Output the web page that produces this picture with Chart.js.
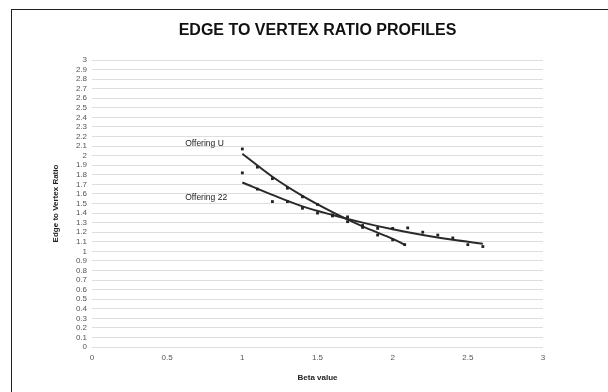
<!DOCTYPE html>
<html>
<head>
<meta charset="utf-8">
<script src="https://cdn.jsdelivr.net/npm/chart.js@4/dist/chart.umd.min.js"></script>
<style>
  html, body { margin: 0; padding: 0; background: #fff; }
  #wrap { position: relative; width: 608px; height: 392px; overflow: hidden; }
  #frame { position: absolute; left: 11px; top: 9px; width: 620px; height: 400px; border: 1px solid #222; }
  #chart { position: absolute; left: 0; top: 0; }
</style>
</head>
<body>
<div id="wrap">
  <div id="frame"></div>
  <canvas id="chart" width="608" height="392"></canvas>
</div>
<script>
// values
const betaU = [1.0, 1.1, 1.2, 1.3, 1.4, 1.5, 1.6, 1.7, 1.8, 1.9, 2.0, 2.08];
const ratioU = [2.07, 1.88, 1.76, 1.66, 1.57, 1.49, 1.38, 1.31, 1.25, 1.17, 1.12, 1.07];

const beta22 = [1.0, 1.1, 1.2, 1.3, 1.4, 1.5, 1.6, 1.7, 1.8, 1.9, 2.0, 2.1, 2.2, 2.3, 2.4, 2.5, 2.6];
const ratio22 = [1.82, 1.65, 1.52, 1.52, 1.45, 1.40, 1.37, 1.36, 1.27, 1.24, 1.24, 1.245, 1.20, 1.17, 1.14, 1.07, 1.05];

// trend curves as drawn in the picture
const trendBetaU = [1.0, 1.2, 1.4, 1.6, 1.8, 2.0, 2.08];
const trendU = [2.02, 1.78, 1.58, 1.41, 1.26, 1.13, 1.07];
const trendBeta22 = [1.0, 1.2, 1.4, 1.6, 1.8, 2.0, 2.2, 2.4, 2.6];
const trend22 = [1.72, 1.59, 1.47, 1.38, 1.30, 1.23, 1.17, 1.12, 1.08];

const chartTitle = 'EDGE TO VERTEX RATIO PROFILES';
const labels = [
  { text: 'Offering U', x: 0.62, y: 2.13 },
  { text: 'Offering 22', x: 0.62, y: 1.56 }
];

const toPoints = (xs, ys) => xs.map((x, i) => ({ x: x, y: ys[i] }));

// title centred over the plot area, plus the two curve names
const texts = {
  id: 'texts',
  afterDatasetsDraw(chart) {
    const { ctx, scales, chartArea } = chart;
    ctx.save();
    ctx.fillStyle = '#111';
    ctx.textAlign = 'center';
    ctx.textBaseline = 'middle';
    ctx.font = 'bold 16px "Liberation Sans", Arial, sans-serif';
    ctx.fillText(chartTitle, (chartArea.left + chartArea.right) / 2, chartArea.top - 29);

    ctx.font = '8.5px "Liberation Sans", Arial, sans-serif';
    ctx.fillStyle = '#222';
    ctx.textAlign = 'left';
    labels.forEach(l => {
      ctx.fillText(l.text, scales.x.getPixelForValue(l.x), scales.y.getPixelForValue(l.y));
    });
    ctx.restore();
  }
};

const fmt = v => String(Math.round(v * 10) / 10);

new Chart(document.getElementById('chart'), {
  type: 'scatter',
  data: {
    datasets: [
      {
        data: toPoints(betaU, ratioU),
        pointStyle: 'rect', pointRadius: 2,
        backgroundColor: '#222', borderColor: '#222', borderWidth: 0
      },
      {
        data: toPoints(beta22, ratio22),
        pointStyle: 'rect', pointRadius: 2,
        backgroundColor: '#222', borderColor: '#222', borderWidth: 0
      },
      {
        data: toPoints(trendBetaU, trendU),
        showLine: true, pointRadius: 0, borderColor: '#2a2a2a', borderWidth: 2,
        cubicInterpolationMode: 'monotone'
      },
      {
        data: toPoints(trendBeta22, trend22),
        showLine: true, pointRadius: 0, borderColor: '#2a2a2a', borderWidth: 2,
        cubicInterpolationMode: 'monotone'
      }
    ]
  },
  options: {
    responsive: false,
    animation: false,
    layout: { padding: { left: 46, right: 65, top: 60, bottom: 0 } },
    plugins: {
      legend: { display: false },
      tooltip: { enabled: false },
      title: { display: false }
    },
    scales: {
      x: {
        type: 'linear', min: 0, max: 3,
        border: { display: false },
        grid: { display: false, drawTicks: false },
        ticks: {
          stepSize: 0.5, padding: 6, color: '#555',
          font: { family: '"Liberation Sans", Arial, sans-serif', size: 8 },
          callback: fmt
        },
        title: {
          display: true, text: 'Beta value', color: '#222',
          font: { family: '"Liberation Sans", Arial, sans-serif', size: 8, weight: 'bold' },
          padding: { top: 0, bottom: 9 }
        },
        afterFit(scale) { scale.height = 45; }
      },
      y: {
        type: 'linear', min: 0, max: 3,
        border: { display: false },
        grid: { color: '#dedede', lineWidth: 1, drawTicks: false },
        ticks: {
          stepSize: 0.1, autoSkip: false, maxTicksLimit: 40, padding: 5, color: '#555',
          font: { family: '"Liberation Sans", Arial, sans-serif', size: 8 },
          callback: fmt
        },
        title: {
          display: true, text: 'Edge to Vertex Ratio', color: '#222',
          font: { family: '"Liberation Sans", Arial, sans-serif', size: 8, weight: 'bold' },
          padding: { top: 5, bottom: 0 }
        },
        afterFit(scale) { scale.width = 46; }
      }
    }
  },
  plugins: [texts]
});
</script>
</body>
</html>
